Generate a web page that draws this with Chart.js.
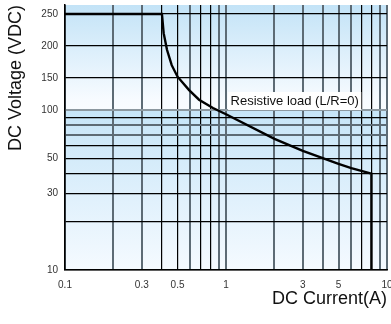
<!DOCTYPE html>
<html><head><meta charset="utf-8">
<script src="https://cdn.jsdelivr.net/npm/chart.js@4/dist/chart.umd.min.js"></script>
<style>html,body{margin:0;padding:0;background:#fff}#wrap{width:391px;height:324px}</style>
</head><body><div id="wrap"><canvas id="c" width="391" height="324"></canvas></div>
<script>
// ---- data ----
const currentA = [0.1, 0.4, 0.41, 0.43, 0.46, 0.5, 0.59, 0.68, 0.83, 1.0, 2, 3, 5, 6, 8, 8];
const voltageV = [250, 250, 220, 194, 170, 152, 131, 116, 103, 94, 66, 55.5, 46, 43.3, 40, 10];
const xTickValues = [0.1,0.2,0.3,0.4,0.5,0.6,0.7,0.8,0.9,1,2,3,4,5,6,7,8,9,10];
const xTickLabels = [0.1,0.3,0.5,1,3,5,10];
const yTickValues = [10,20,30,40,50,60,70,80,90,100,150,200,250];
const yTickLabels = [10,30,50,100,150,200,250];
const xBlackGrid = [0.4,0.5,0.7,0.8,7,8];
const yGrayGrid = [80,70];
const yLightGrid = [100];
const seriesLabel = 'Resistive load (L/R=0)';
const labelAnchor = {x: 1.03, y: 114};
const xTitle = 'DC Current(A)';
const yTitle = 'DC Voltage (VDC)';

const FONT = '"Liberation Sans", Arial, sans-serif';
const GRAY = '#5d6b75', LIGHTGRAY = '#8c98a0';

// log below 100, linear above 100 (as in the reference axis)
class LogLinearScale extends Chart.LinearScale {
  static id = 'logLinear';
  _hx(v){ return v <= 100 ? Math.log10(v) : 2 + (v - 100) / 250; }
  _hinv(t){ return t <= 2 ? Math.pow(10, t) : 100 + (t - 2) * 250; }
  buildTicks(){ return yTickValues.map(v => ({value: v})); }
  getPixelForValue(v){
    const a = this._hx(this.min), b = this._hx(this.max);
    return this.getPixelForDecimal((this._hx(v) - a) / (b - a));
  }
  getValueForPixel(p){
    const a = this._hx(this.min), b = this._hx(this.max);
    return this._hinv(a + this.getDecimalForPixel(p) * (b - a));
  }
}
Chart.register(LogLinearScale);

const bgPlugin = {
  id: 'bg',
  beforeDraw(chart){
    const {ctx, chartArea: a, scales: {y}} = chart;
    const y100 = y.getPixelForValue(100);
    ctx.save();
    let g = ctx.createLinearGradient(0, a.top, 0, y100);
    g.addColorStop(0, '#c3e3f7'); g.addColorStop(0.9, '#f7fbff'); g.addColorStop(1, '#f9fcff');
    ctx.fillStyle = g; ctx.fillRect(a.left, a.top, a.right - a.left, y100 - a.top);
    g = ctx.createLinearGradient(0, y100, 0, a.bottom);
    g.addColorStop(0, '#c6e5f8'); g.addColorStop(1, '#f5faff');
    ctx.fillStyle = g; ctx.fillRect(a.left, y100, a.right - a.left, a.bottom - y100);
    ctx.restore();
  }
};
const labelPlugin = {
  id: 'lbl',
  afterDraw(chart){
    const {ctx, scales: {x, y}} = chart;
    const px = x.getPixelForValue(labelAnchor.x), py = y.getPixelForValue(labelAnchor.y);
    ctx.save();
    ctx.font = '13px ' + FONT;
    const w = ctx.measureText(seriesLabel).width;
    ctx.fillStyle = '#fff';
    ctx.fillRect(px, py - 9, w + 5, 18);
    ctx.fillStyle = '#111';
    ctx.textBaseline = 'middle';
    ctx.fillText(seriesLabel, px + 2.5, py + 0.5);
    ctx.restore();
  }
};

new Chart(document.getElementById('c'), {
  type: 'line',
  data: {
    datasets: [{
      label: seriesLabel,
      data: currentA.map((v, i) => ({x: v, y: voltageV[i]})),
      borderColor: '#000', borderWidth: 2.4, pointRadius: 0, tension: 0, fill: false
    }]
  },
  options: {
    responsive: false, animation: false, devicePixelRatio: 1,
    layout: {padding: {top: 5, right: 4, left: 0, bottom: 0}},
    plugins: {legend: {display: false}, tooltip: {enabled: false}},
    scales: {
      x: {
        type: 'logarithmic', min: 0.1, max: 10,
        afterBuildTicks: s => { s.ticks = xTickValues.map(v => ({value: v})); },
        afterFit: s => { s.height = 54; s.paddingLeft = 0; s.paddingRight = 0; },
        ticks: {
          autoSkip: false, maxRotation: 0, padding: 9, color: '#333',
          font: {family: FONT, size: 10},
          callback: v => xTickLabels.includes(v) ? String(v) : ''
        },
        grid: {
          drawTicks: false,
          color: c => xBlackGrid.includes(c.tick && c.tick.value) ? '#000' : GRAY,
          lineWidth: c => xBlackGrid.includes(c.tick && c.tick.value) ? 1.2 : 2
        },
        border: {display: true, color: '#000', width: 1.5},
        title: {display: true, text: xTitle, align: 'end', color: '#111',
          font: {family: FONT, size: 18}, padding: {top: 4, bottom: 14}}
      },
      y: {
        type: 'logLinear', min: 10, max: 264,
        afterFit: s => { s.width = 65; s.paddingTop = 0; s.paddingBottom = 0; },
        ticks: {
          autoSkip: false, padding: 7, color: '#333',
          font: {family: FONT, size: 10},
          callback: v => yTickLabels.includes(v) ? String(v) : ''
        },
        grid: {
          drawTicks: false,
          color: c => { const v = c.tick && c.tick.value; return yLightGrid.includes(v) ? LIGHTGRAY : (yGrayGrid.includes(v) ? GRAY : '#000'); },
          lineWidth: c => { const v = c.tick && c.tick.value; return (yLightGrid.includes(v) || yGrayGrid.includes(v)) ? 2 : 1.2; }
        },
        border: {display: true, color: '#000', width: 1.5},
        title: {display: true, text: yTitle, align: 'end', color: '#111',
          font: {family: FONT, size: 18}, padding: {top: 5, bottom: 0}}
      }
    }
  },
  plugins: [bgPlugin, labelPlugin]
});
</script>
</body></html>
